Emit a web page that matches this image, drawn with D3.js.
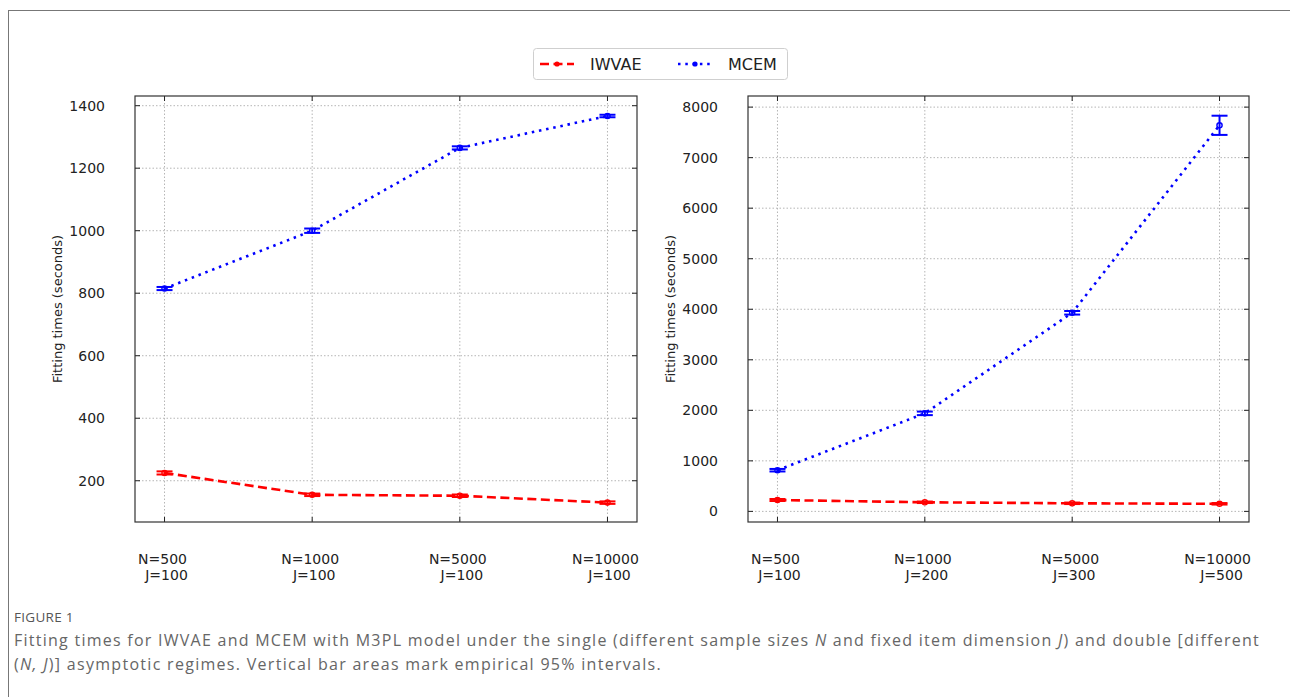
<!DOCTYPE html>
<html>
<head>
<meta charset="utf-8">
<script src="https://cdn.jsdelivr.net/npm/d3@7"></script>
<style>
  body { margin: 0; background: #fff; }
  svg { display: block; }
  .tick-label { font-family: "DejaVu Sans", sans-serif; font-size: 14px; fill: #222; }
  .caption { font-family: "Open Sans", sans-serif; fill: #666; }
</style>
</head>
<body>
<div id="chart"></div>
<script>
// categories for the two panels
const leftCats = [["N=500", "J=100"], ["N=1000", "J=100"], ["N=5000", "J=100"], ["N=10000", "J=100"]]
const rightCats = [["N=500", "J=100"], ["N=1000", "J=200"], ["N=5000", "J=300"], ["N=10000", "J=500"]]

// fitting times (seconds), mean and 95% interval bounds
const leftIwvae = [225, 155, 152, 130]
const leftIwvaeLo = [220, 151, 148, 126]
const leftIwvaeHi = [230, 159, 156, 134]
const leftMcem = [815, 1000, 1265, 1367]
const leftMcemLo = [810, 993, 1260, 1363]
const leftMcemHi = [820, 1007, 1270, 1371]

const rightIwvae = [225, 180, 160, 150]
const rightIwvaeLo = [205, 165, 145, 135]
const rightIwvaeHi = [245, 195, 175, 165]
const rightMcem = [815, 1940, 3930, 7640]
const rightMcemLo = [790, 1905, 3895, 7450]
const rightMcemHi = [840, 1975, 3965, 7830]

const leftTicks = [200, 400, 600, 800, 1000, 1200, 1400]
const rightTicks = [0, 1000, 2000, 3000, 4000, 5000, 6000, 7000, 8000]

const W = 1290, H = 697

const svg = d3.select('#chart').append('svg')
    .attr('width', W)
    .attr('height', H)

// outer figure frame
svg.append('rect')
    .attr('x', 8.5).attr('y', 10.5)
    .attr('width', W + 20).attr('height', H + 20)
    .attr('fill', 'none')
    .attr('stroke', '#777')
    .attr('stroke-width', 1)

function drawPanel(cfg) {
    const g = svg.append('g')
    const x = d3.scaleLinear().domain([-0.2, 3.2]).range([cfg.left, cfg.right])
    const y = d3.scaleLinear().domain(cfg.yDomain).range([cfg.bottom, cfg.top])

    // grid
    g.selectAll('.hgrid').data(cfg.ticks).join('line')
        .attr('x1', cfg.left).attr('x2', cfg.right)
        .attr('y1', d => y(d)).attr('y2', d => y(d))
        .attr('stroke', '#b5b5b5').attr('stroke-width', 1)
        .attr('stroke-dasharray', '1.5,2')
    g.selectAll('.vgrid').data(cfg.cats).join('line')
        .attr('x1', (d, i) => x(i)).attr('x2', (d, i) => x(i))
        .attr('y1', cfg.top).attr('y2', cfg.bottom)
        .attr('stroke', '#b5b5b5').attr('stroke-width', 1)
        .attr('stroke-dasharray', '1.5,2')

    // inward ticks on all four sides
    const tl = 5
    g.selectAll('.ytl').data(cfg.ticks).join('line')
        .attr('x1', cfg.left).attr('x2', cfg.left + tl)
        .attr('y1', d => y(d)).attr('y2', d => y(d))
        .attr('stroke', '#222')
    g.selectAll('.ytr').data(cfg.ticks).join('line')
        .attr('x1', cfg.right).attr('x2', cfg.right - tl)
        .attr('y1', d => y(d)).attr('y2', d => y(d))
        .attr('stroke', '#222')
    g.selectAll('.xtb').data(cfg.cats).join('line')
        .attr('x1', (d, i) => x(i)).attr('x2', (d, i) => x(i))
        .attr('y1', cfg.bottom).attr('y2', cfg.bottom - tl)
        .attr('stroke', '#222')
    g.selectAll('.xtt').data(cfg.cats).join('line')
        .attr('x1', (d, i) => x(i)).attr('x2', (d, i) => x(i))
        .attr('y1', cfg.top).attr('y2', cfg.top + tl)
        .attr('stroke', '#222')

    // frame
    g.append('rect')
        .attr('x', cfg.left).attr('y', cfg.top)
        .attr('width', cfg.right - cfg.left).attr('height', cfg.bottom - cfg.top)
        .attr('fill', 'none').attr('stroke', '#333').attr('stroke-width', 1.2)

    // y tick labels
    g.selectAll('.ylab').data(cfg.ticks).join('text')
        .attr('class', 'tick-label')
        .attr('x', cfg.left - 30)
        .attr('y', d => y(d))
        .attr('dy', '0.36em')
        .attr('text-anchor', 'end')
        .text(d => d)

    // x tick labels, two lines
    const xl = g.selectAll('.xlab').data(cfg.cats).join('text')
        .attr('class', 'tick-label')
        .attr('text-anchor', 'middle')
    xl.append('tspan')
        .attr('x', (d, i) => x(i) - 2)
        .attr('y', cfg.bottom + 42)
        .text(d => d[0])
    xl.append('tspan')
        .attr('x', (d, i) => x(i) + 2)
        .attr('y', cfg.bottom + 58)
        .text(d => d[1])

    // y axis title
    g.append('text')
        .attr('class', 'tick-label')
        .attr('transform', `translate(${cfg.left - 78}, ${(cfg.top + cfg.bottom) / 2}) rotate(-90)`)
        .attr('text-anchor', 'middle')
        .attr('dy', '0.36em')
        .style('font-size', '13px')
        .text('Fitting times (seconds)')

    const series = [
        {mean: cfg.iwvae, lo: cfg.iwvaeLo, hi: cfg.iwvaeHi, color: '#ff0000', dash: '9,4.5'},
        {mean: cfg.mcem, lo: cfg.mcemLo, hi: cfg.mcemHi, color: '#0000ff', dash: '2.5,4.8'}
    ]

    const line = d3.line().x((d, i) => x(i)).y(d => y(d))

    series.forEach(s => {
        g.append('path')
            .datum(s.mean)
            .attr('d', line)
            .attr('fill', 'none')
            .attr('stroke', s.color)
            .attr('stroke-width', 2.6)
            .attr('stroke-dasharray', s.dash)

        const eb = g.append('g')
        const idx = d3.range(s.mean.length)
        eb.selectAll('.bar').data(idx).join('line')
            .attr('x1', i => x(i)).attr('x2', i => x(i))
            .attr('y1', i => y(s.lo[i])).attr('y2', i => y(s.hi[i]))
            .attr('stroke', s.color).attr('stroke-width', 2)
        eb.selectAll('.caplo').data(idx).join('line')
            .attr('x1', i => x(i) - 8).attr('x2', i => x(i) + 8)
            .attr('y1', i => y(s.lo[i])).attr('y2', i => y(s.lo[i]))
            .attr('stroke', s.color).attr('stroke-width', 2)
        eb.selectAll('.caphi').data(idx).join('line')
            .attr('x1', i => x(i) - 8).attr('x2', i => x(i) + 8)
            .attr('y1', i => y(s.hi[i])).attr('y2', i => y(s.hi[i]))
            .attr('stroke', s.color).attr('stroke-width', 2)
        eb.selectAll('.pt').data(idx).join('circle')
            .attr('cx', i => x(i)).attr('cy', i => y(s.mean[i]))
            .attr('r', 2.6)
            .attr('fill', 'none')
            .attr('stroke', s.color).attr('stroke-width', 1.4)
    })
}

drawPanel({
    left: 135, right: 637, top: 96, bottom: 522,
    yDomain: [68, 1431], ticks: leftTicks, cats: leftCats,
    iwvae: leftIwvae, iwvaeLo: leftIwvaeLo, iwvaeHi: leftIwvaeHi,
    mcem: leftMcem, mcemLo: leftMcemLo, mcemHi: leftMcemHi
})

drawPanel({
    left: 748, right: 1249, top: 96, bottom: 522,
    yDomain: [-210, 8220], ticks: rightTicks, cats: rightCats,
    iwvae: rightIwvae, iwvaeLo: rightIwvaeLo, iwvaeHi: rightIwvaeHi,
    mcem: rightMcem, mcemLo: rightMcemLo, mcemHi: rightMcemHi
})

// legend
const legendItems = [
    {name: 'IWVAE', color: '#ff0000', dash: '9,4.5', x: 540},
    {name: 'MCEM', color: '#0000ff', dash: '2.5,4.8', x: 678}
]
const lg = svg.append('g')
lg.append('rect')
    .attr('x', 533.5).attr('y', 48.5)
    .attr('width', 254).attr('height', 31)
    .attr('rx', 3)
    .attr('fill', '#fff')
    .attr('stroke', '#cfcfcf')
legendItems.forEach(it => {
    lg.append('line')
        .attr('x1', it.x).attr('x2', it.x + 34)
        .attr('y1', 64).attr('y2', 64)
        .attr('stroke', it.color).attr('stroke-width', 2.6)
        .attr('stroke-dasharray', it.dash)
    lg.append('circle')
        .attr('cx', it.x + 17).attr('cy', 64).attr('r', 2.6)
        .attr('fill', it.color)
    lg.append('text')
        .attr('class', 'tick-label')
        .attr('x', it.x + 50).attr('y', 64)
        .attr('dy', '0.36em')
        .style('font-size', '16px')
        .text(it.name)
})

// caption
svg.append('text')
    .attr('class', 'caption')
    .attr('x', 14).attr('y', 622)
    .style('font-size', '13.5px')
    .style('fill', '#555')
    .style('letter-spacing', '0.3px')
    .text('FIGURE 1')
const cap1 = svg.append('text')
    .attr('class', 'caption')
    .attr('x', 14).attr('y', 646)
    .style('font-size', '16px')
cap1.append('tspan').text('Fitting times for IWVAE and MCEM with M3PL model under the single (different sample sizes ')
cap1.append('tspan').style('font-style', 'italic').text('N')
cap1.append('tspan').text(' and fixed item dimension ')
cap1.append('tspan').style('font-style', 'italic').text('J')
cap1.append('tspan').text(') and double [different')
const cap2 = svg.append('text')
    .attr('class', 'caption')
    .attr('x', 14).attr('y', 670)
    .style('font-size', '16px')
cap2.append('tspan').text('(')
cap2.append('tspan').style('font-style', 'italic').text('N, J')
cap2.append('tspan').text(')] asymptotic regimes. Vertical bar areas mark empirical 95% intervals.')

// spread the caption lines to the width they take in the figure
const capWidths = [1246, 648]
;[cap1, cap2].forEach((t, i) => {
    const n = t.text().length
    const w = t.node().getComputedTextLength()
    t.style('letter-spacing', `${((capWidths[i] - w) / n).toFixed(3)}px`)
})
</script>
</body>
</html>
